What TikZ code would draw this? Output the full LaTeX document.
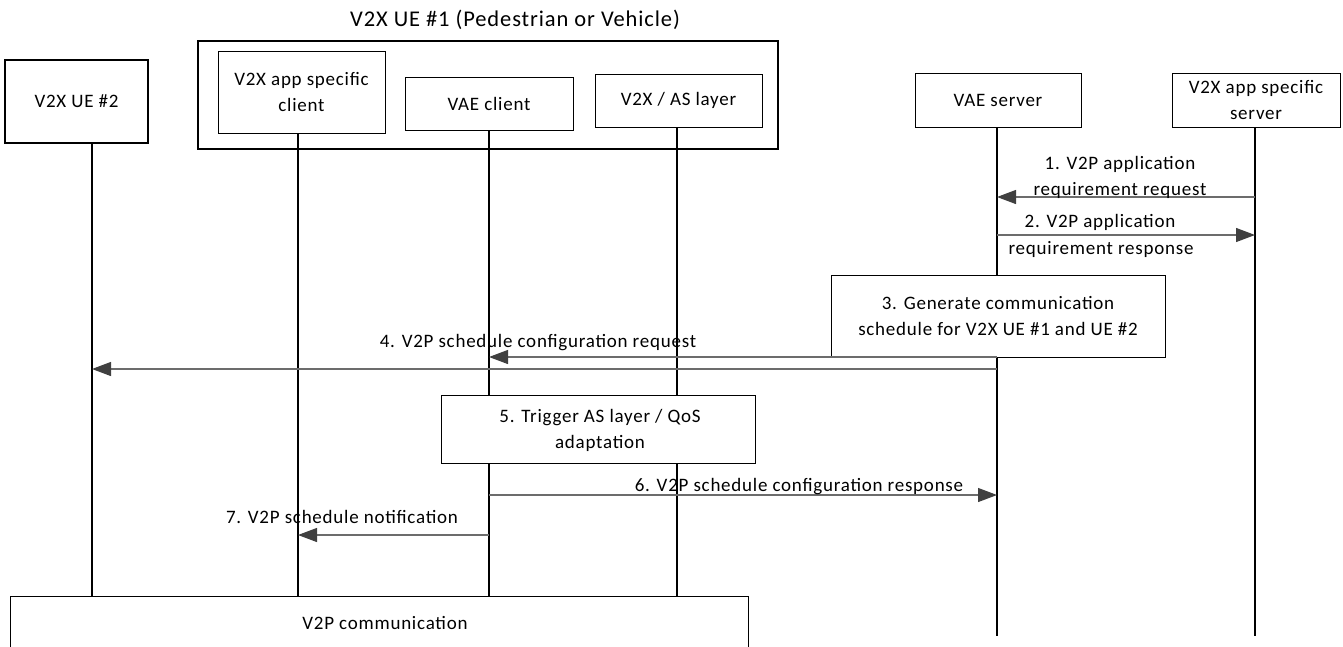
\documentclass[tikz,border=0pt]{standalone}
\usepackage{fontspec}
\setmainfont{Carlito}[LetterSpace=4]
\usetikzlibrary{arrows.meta}
\begin{document}
\begin{tikzpicture}[x=1pt,y=-1pt,
  font=\fontsize{19}{26}\selectfont,
  ent/.style={draw,line width=0.9pt,align=center,inner sep=0pt},
  thickbox/.style={draw,line width=2.2pt,inner sep=0pt},
  life/.style={line width=1.6pt},
  msg/.style={draw=gray!85!black,line width=1.2pt,-{Triangle[length=19pt,width=14pt,color=black!75]}},
  lbl/.style={align=center,inner sep=0pt}]
\useasboundingbox (0,0) rectangle (1343,646);
% title and UE1 frame
\node[lbl,font=\fontsize{22.5}{26}\selectfont] (title) at (515,20) {V2X UE \#1 (Pedestrian or Vehicle)};
\node[thickbox,minimum width=580pt,minimum height=108pt] (ue1) at (488,95) {};
% entities
\node[thickbox,minimum width=143pt,minimum height=83pt] (ue2) at (76.5,101.5) {V2X UE \#2};
\node[ent,minimum width=167pt,minimum height=82pt] (appc) at (301.5,92) {V2X app specific\\client};
\node[ent,minimum width=168pt,minimum height=53pt] (vaec) at (489,103.5) {VAE client};
\node[ent,minimum width=167pt,minimum height=53pt] (asl) at (678.5,100.5) {V2X / AS layer};
\node[ent,minimum width=166pt,minimum height=54pt] (vaes) at (998,100) {VAE server};
\node[ent,minimum width=168pt,minimum height=54pt] (apps) at (1256,100) {V2X app specific\\server};
% bottom communication box
\node[ent,minimum width=738pt,minimum height=54pt] (comm) at (379,623) {};
\node[lbl] (commtxt) at (385,623) {V2P communication};
% coordinates for lifeline ends
\coordinate (vaesEnd) at (997,636);
\coordinate (appsEnd) at (1255,636);
% lifelines
\draw[life] (92,143) coordinate (ue2top) -- (ue2top |- comm.north);
\draw[life] (298,133) coordinate (appctop) -- (appctop |- comm.north);
\draw[life] (489,130) coordinate (vaectop) -- (vaectop |- comm.north);
\draw[life] (677,127) coordinate (asltop) -- (asltop |- comm.north);
\draw[life] (997,127) coordinate (vaestop) -- (vaesEnd);
\draw[life] (1255,127) coordinate (appstop) -- (appsEnd);
% step 3 box and step 5 box
\node[ent,fill=white,minimum width=334pt,minimum height=82pt] (s3) at (998,316) {3. Generate communication\\schedule for V2X UE \#1 and UE \#2};
\node[ent,fill=white,minimum width=314pt,minimum height=68pt] (s5) at (598,429) {};
\node[lbl] (s5txt) at (600,430) {5. Trigger AS layer / QoS\\adaptation};
% messages
\draw[msg] (appstop |- 0,197) -- (vaestop |- 0,197);
\node[lbl] (m1) at (1120,177) {1. V2P application\\requirement request};
\draw[msg] (vaestop |- 0,235) -- (appstop |- 0,235);
\node[lbl] (m2a) at (1100,222) {2. V2P application};
\node[lbl] (m2b) at (1101,249) {requirement response};
\draw[msg] (vaestop |- 0,357) -- (vaectop |- 0,357);
\node[lbl] (m4) at (538,343) {4. V2P schedule configuration request};
\draw[msg] (vaestop |- 0,369) -- (ue2top |- 0,369);
\draw[msg] (vaectop |- 0,495) -- (vaestop |- 0,495);
\node[lbl] (m6) at (799,487) {6. V2P schedule configuration response};
\draw[msg] (vaectop |- 0,535) -- (appctop |- 0,535);
\node[lbl] (m7) at (342,517) {7. V2P schedule notification};
\end{tikzpicture}
\end{document}
